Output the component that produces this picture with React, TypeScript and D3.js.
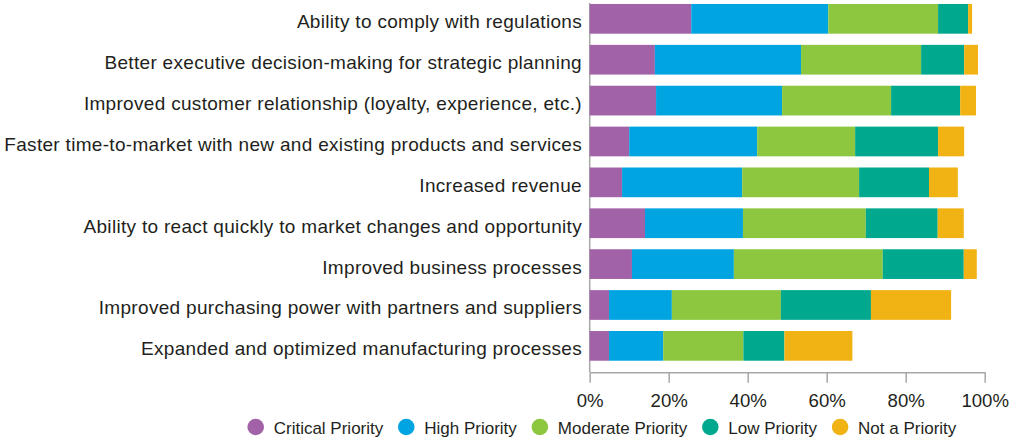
import React, { useEffect, useRef } from 'react'
import * as d3 from 'd3'

const categories = [
    'Ability to comply with regulations',
    'Better executive decision-making for strategic planning',
    'Improved customer relationship (loyalty, experience, etc.)',
    'Faster time-to-market with new and existing products and services',
    'Increased revenue',
    'Ability to react quickly to market changes and opportunity',
    'Improved business processes',
    'Improved purchasing power with partners and suppliers',
    'Expanded and optimized manufacturing processes',
]

const seriesNames = ['Critical Priority', 'High Priority', 'Moderate Priority', 'Low Priority', 'Not a Priority']

// percent of respondents
const critical = [25.7, 16.5, 16.8, 10.0, 8.2, 14.0, 10.7, 4.9, 4.9]
const high = [34.7, 37.0, 31.9, 32.4, 30.4, 24.8, 25.8, 15.9, 13.7]
const moderate = [27.8, 30.4, 27.6, 24.8, 29.6, 31.1, 37.7, 27.6, 20.3]
const low = [7.6, 10.9, 17.5, 21.0, 17.7, 18.2, 20.5, 22.8, 10.4]
const notPriority = [1.0, 3.5, 4.0, 6.6, 7.3, 6.6, 3.3, 20.3, 17.2]

const tickValues = [0, 20, 40, 60, 80, 100]

const colors = ['#a262a8', '#00a4e1', '#8dc63f', '#00a88e', '#f1b314']

const FONT = '"Liberation Sans", Arial, Helvetica, sans-serif'

const App = () => {
    const ref = useRef<SVGSVGElement>(null)

    useEffect(() => {
        const svg = d3.select(ref.current)
        svg.selectAll('*').remove()

        const rows = categories.map((c, i) => ({
            label: c,
            'Critical Priority': critical[i],
            'High Priority': high[i],
            'Moderate Priority': moderate[i],
            'Low Priority': low[i],
            'Not a Priority': notPriority[i],
        }))

        const x = d3.scaleLinear().domain([0, 100]).range([589.7, 984.7])
        const y = d3.scaleBand()
            .domain(categories)
            .range([-1.6, 366.3])
            .paddingInner(0.273)
            .paddingOuter(0.1365)
        const color = d3.scaleOrdinal<string>().domain(seriesNames).range(colors)

        const stacked = d3.stack<any>().keys(seriesNames)(rows)

        const axisY = 372.3

        // left axis line
        svg.append('line')
            .attr('x1', x(0)).attr('x2', x(0))
            .attr('y1', 3).attr('y2', axisY)
            .attr('stroke', '#a7a7a7')
            .attr('stroke-width', 1.5)

        // bars
        svg.append('g')
            .selectAll('g')
            .data(stacked)
            .enter().append('g')
            .attr('fill', d => color(d.key))
            .selectAll('rect')
            .data(d => d)
            .enter().append('rect')
            .attr('x', d => x(d[0]))
            .attr('y', d => y(d.data.label) as number)
            .attr('width', d => x(d[1]) - x(d[0]))
            .attr('height', y.bandwidth())

        // category labels
        svg.append('g')
            .selectAll('text')
            .data(categories)
            .enter().append('text')
            .attr('x', 582)
            .attr('y', d => (y(d) as number) + y.bandwidth() / 2 + 9.5)
            .attr('text-anchor', 'end')
            .attr('fill', '#231f20')
            .style('font-family', FONT)
            .style('font-size', '19px')
            .style('letter-spacing', '0.31px')
            .text(d => d)

        // bottom axis
        const gx = svg.append('g')
            .attr('transform', 'translate(0,' + axisY + ')')
            .call(d3.axisBottom(x)
                .tickValues(tickValues)
                .tickFormat(d => d + '%')
                .tickSize(10.5)
                .tickSizeOuter(0))
        gx.select('.domain').attr('stroke', '#a7a7a7').attr('stroke-width', 1.5)
        gx.selectAll('.tick line').attr('stroke', '#a7a7a7').attr('stroke-width', 1.5)
        gx.selectAll('.tick text')
            .attr('y', 21)
            .attr('fill', '#231f20')
            .style('font-family', FONT)
            .style('font-size', '18.6px')

        // legend, laid out left to right
        const legend = svg.append('g')
        let cx = 255.7
        seriesNames.forEach((name) => {
            legend.append('circle')
                .attr('cx', cx)
                .attr('cy', 427)
                .attr('r', 8.3)
                .attr('fill', color(name))
            const t = legend.append('text')
                .attr('x', cx + 18)
                .attr('y', 433.5)
                .attr('fill', '#231f20')
                .style('font-family', FONT)
                .style('font-size', '17px')
                .text(name)
            const w = (t.node() as SVGTextElement).getComputedTextLength()
            cx = cx + 18 + w + 23
        })
    }, [])

    return (
        <svg
            ref={ref}
            width={1017}
            height={440}
            style={{ position: 'absolute', left: 0, top: 0, background: '#fff' }}
        />
    )
}

export default App
